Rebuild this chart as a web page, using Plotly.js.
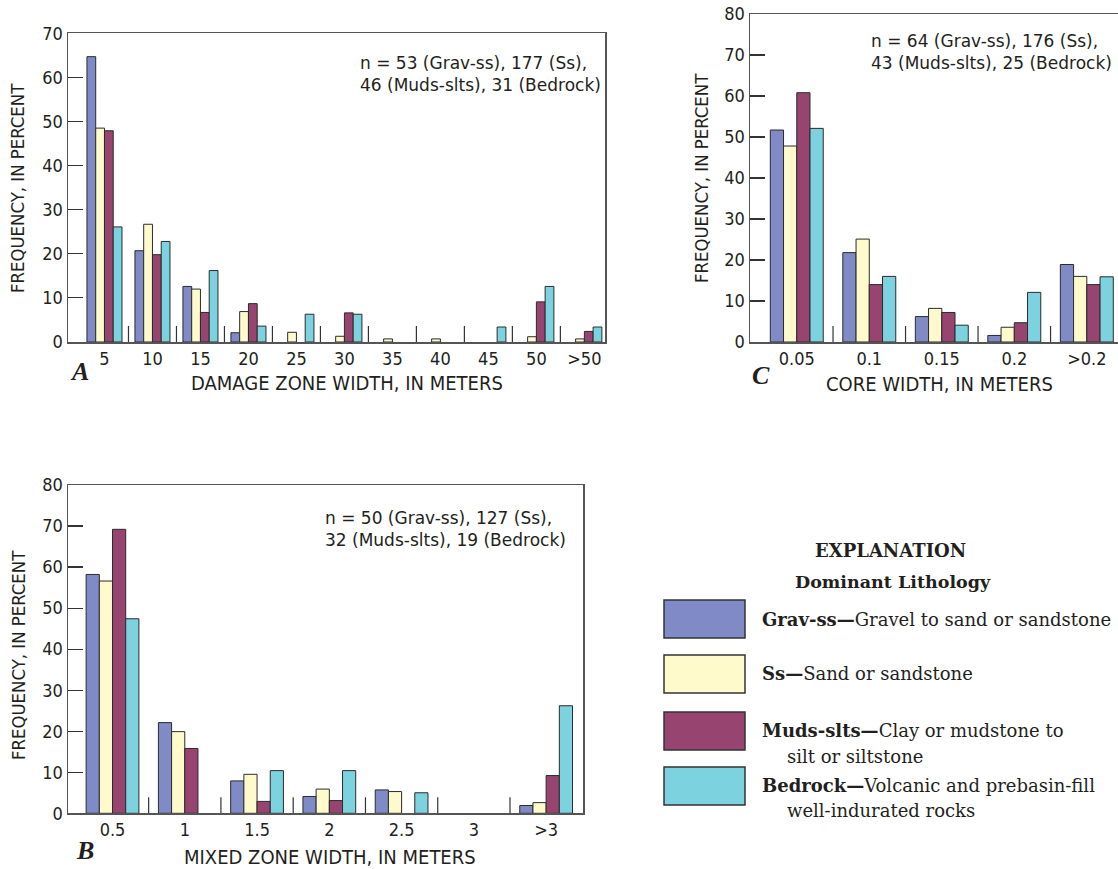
<!DOCTYPE html>
<html>
<head>
<meta charset="utf-8">
<script src="https://cdn.plot.ly/plotly-3.0.1.min.js"></script>
<style>html,body{margin:0;padding:0;background:#fff;}#chart{width:1118px;height:869px;}</style>
</head>
<body>
<div id="chart"></div>
<script>
// ---------- DATA ----------
const seriesNames = ['Grav-ss', 'Ss', 'Muds-slts', 'Bedrock'];
const seriesColors = ['#7f8ac6', '#fffacc', '#974570', '#7dd2df'];

// Panel A: damage zone width
const catsA = ['5', '10', '15', '20', '25', '30', '35', '40', '45', '50', '>50'];
const gravA = [64.7, 20.7, 12.6, 2.1, 0, 0, 0, 0, 0, 0, 0];
const ssA   = [48.5, 26.7, 12.0, 6.9, 2.2, 1.3, 0.7, 0.7, 0, 1.2, 0.7];
const mudsA = [47.9, 19.8, 6.7, 8.7, 0, 6.6, 0, 0, 0, 9.1, 2.4];
const bedA  = [26.1, 22.8, 16.2, 3.6, 6.3, 6.3, 0, 0, 3.4, 12.6, 3.4];

// Panel B: mixed zone width
const catsB = ['0.5', '1', '1.5', '2', '2.5', '3', '>3'];
const gravB = [58.2, 22.1, 7.9, 4.1, 5.7, 0, 1.9];
const ssB   = [56.6, 19.9, 9.5, 5.9, 5.3, 0, 2.6];
const mudsB = [69.2, 15.8, 2.9, 3.1, 0, 0, 9.2];
const bedB  = [47.4, 0, 10.4, 10.4, 5.0, 0, 26.2];

// Panel C: core width
const catsC = ['0.05', '0.1', '0.15', '0.2', '>0.2'];
const gravC = [51.7, 21.8, 6.2, 1.6, 18.9];
const ssC   = [47.8, 25.1, 8.2, 3.6, 16.0];
const mudsC = [60.8, 14.0, 7.2, 4.7, 14.0];
const bedC  = [52.1, 16.0, 4.1, 12.1, 15.9];

const nTextA = 'n = 53 (Grav-ss), 177 (Ss),<br>46 (Muds-slts), 31 (Bedrock)';
const nTextB = 'n = 50 (Grav-ss), 127 (Ss),<br>32 (Muds-slts), 19 (Bedrock)';
const nTextC = 'n = 64 (Grav-ss), 176 (Ss),<br>43 (Muds-slts), 25 (Bedrock)';

const legendTexts = [
  ['<b>Grav-ss—</b>Gravel to sand or sandstone'],
  ['<b>Ss—</b>Sand or sandstone'],
  ['<b>Muds-slts—</b>Clay or mudstone to', 'silt or siltstone'],
  ['<b>Bedrock—</b>Volcanic and prebasin-fill', 'well-indurated rocks']
];

// ---------- LAYOUT HELPERS ----------
const W = 1118, H = 869;
const fx = p => p / W;
const fy = p => 1 - p / H;
const TXT = '#231f20';
const COND = '"Liberation Sans Narrow", "Arial Narrow", "DejaVu Sans Condensed", "Roboto Condensed", sans-serif';
const WIDE = '"DejaVu Sans", Verdana, sans-serif';
const SERIF = '"DejaVu Serif", "Liberation Serif", serif';

const traces = [];
function addPanel(cats, vals, xa, ya) {
  vals.forEach((v, i) => {
    traces.push({
      type: 'bar', x: cats, y: v.map(d => (d === 0 ? null : d)), name: seriesNames[i],
      xaxis: xa, yaxis: ya, showlegend: false,
      marker: {color: seriesColors[i], line: {color: '#2b2b2b', width: 1}},
      hoverinfo: 'x+y+name'
    });
  });
}
addPanel(catsA, [gravA, ssA, mudsA, bedA], 'x', 'y');
addPanel(catsC, [gravC, ssC, mudsC, bedC], 'x2', 'y2');
addPanel(catsB, [gravB, ssB, mudsB, bedB], 'x3', 'y3');

function xax(domain, cats, rng, anchor) {
  return {
    domain: domain, anchor: anchor, type: 'category', range: rng,
    categoryorder: 'array', categoryarray: cats,
    showline: true, linecolor: '#555', linewidth: 1.5, mirror: true,
    ticks: '', showgrid: false, zeroline: false, fixedrange: true,
    tickfont: {family: COND, size: 18, color: TXT}
  };
}
function yax(domain, anchor, maxv, mirror) {
  return {
    domain: domain, anchor: anchor, range: [0, maxv], dtick: 10,
    showline: true, linecolor: '#555', linewidth: 1.5, mirror: mirror,
    ticks: 'inside', ticklen: 15, tickwidth: 1.2, tickcolor: '#333',
    showgrid: false, zeroline: false, fixedrange: true,
    tickfont: {family: COND, size: 18, color: TXT}
  };
}

const shapes = [];
function separators(n, xref, yref) {
  for (let i = 0; i < n - 1; i++) {
    shapes.push({type: 'line', xref: xref, yref: yref, x0: i + 0.5, x1: i + 0.5,
      ysizemode: 'pixel', yanchor: 0, y0: 0, y1: 16,
      line: {color: '#333', width: 1.2}});
  }
}
separators(catsA.length, 'x', 'y');
separators(catsC.length, 'x2', 'y2');
separators(catsB.length, 'x3', 'y3');

const annotations = [];
function ann(text, x, y, opts) {
  annotations.push(Object.assign({
    text: text, xref: 'paper', yref: 'paper', x: fx(x), y: fy(y),
    showarrow: false, xanchor: 'center', yanchor: 'middle',
    font: {family: COND, size: 20, color: TXT}
  }, opts || {}));
}
// axis titles
const yTitleFont = {family: COND, size: 18.4, color: TXT};
ann('FREQUENCY, IN PERCENT', 18, 188, {textangle: -90, font: yTitleFont});
ann('FREQUENCY, IN PERCENT', 18, 655, {textangle: -90, font: yTitleFont});
ann('FREQUENCY, IN PERCENT', 702, 178, {textangle: -90, font: yTitleFont});
ann('DAMAGE ZONE WIDTH, IN METERS', 347, 383);
ann('MIXED ZONE WIDTH, IN METERS', 330, 857);
ann('CORE WIDTH, IN METERS', 939, 384);
// panel letters
const letterFont = {family: '"Liberation Serif", "DejaVu Serif", serif', size: 26, color: TXT, weight: 'bold', style: 'italic'};
ann('A', 79, 371, {font: letterFont});
ann('B', 85, 850, {font: letterFont});
ann('C', 761, 376, {font: letterFont});
// n annotations
const nFont = {family: WIDE, size: 17, color: TXT};
ann(nTextA, 358, 51, {xanchor: 'left', yanchor: 'top', align: 'left', font: nFont});
ann(nTextB, 323, 506, {xanchor: 'left', yanchor: 'top', align: 'left', font: nFont});
ann(nTextC, 869, 29, {xanchor: 'left', yanchor: 'top', align: 'left', font: nFont});

// explanation
ann('<b>EXPLANATION</b>', 890, 550, {font: {family: SERIF, size: 18, color: TXT}});
ann('<b>Dominant Lithology</b>', 893, 582, {font: {family: SERIF, size: 17.5, color: TXT}});
const boxTops = [600, 655, 712, 767];
const boxH = 38;
seriesColors.forEach((c, i) => {
  shapes.push({type: 'rect', xref: 'paper', yref: 'paper',
    x0: fx(664), x1: fx(745), y0: fy(boxTops[i] + boxH), y1: fy(boxTops[i]),
    fillcolor: c, line: {color: '#333', width: 1.5}});
});
const legY = [[619], [673], [730, 756], [785, 810]];
const legendFont = {family: SERIF, size: 18, color: TXT};
legendTexts.forEach((lines, i) => {
  lines.forEach((t, j) => {
    ann(t, j === 0 ? 760 : 785, legY[i][j], {xanchor: 'left', align: 'left', font: legendFont});
  });
});

const layout = {
  width: W, height: H,
  margin: {l: 0, r: 0, t: 0, b: 0},
  paper_bgcolor: '#fff', plot_bgcolor: 'rgba(0,0,0,0)',
  barmode: 'group', bargap: 0.27, bargroupgap: 0,
  showlegend: false,
  xaxis:  xax([fx(68), fx(605)], catsA, [-0.76, 10.43], 'y'),
  yaxis:  yax([fy(342), fy(33.3)], 'x', 70, true),
  xaxis2: xax([fx(750), fx(1118)], catsC, [-0.645, 4.43], 'y2'),
  yaxis2: yax([fy(342), fy(14)], 'x2', 80, false),
  xaxis3: xax([fx(68), fx(583)], catsB, [-0.616, 6.51], 'y3'),
  yaxis3: yax([fy(813.3), fy(485)], 'x3', 80, true),
  shapes: shapes,
  annotations: annotations,
  font: {family: COND, color: TXT}
};

Plotly.newPlot('chart', traces, layout, {displayModeBar: false, staticPlot: true});
</script>
</body>
</html>
